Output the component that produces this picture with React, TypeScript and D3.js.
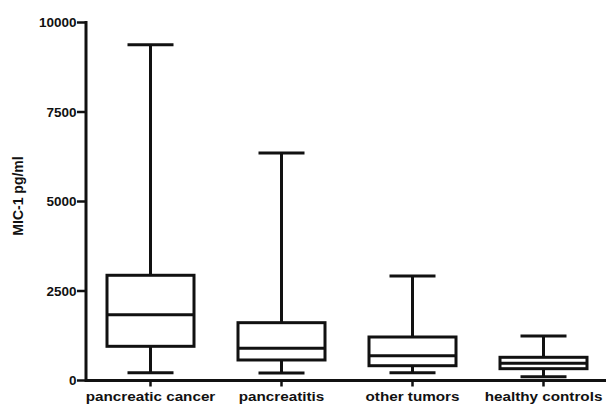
import React from "react";
import * as d3 from "d3";

const categories = ["pancreatic cancer", "pancreatitis", "other tumors", "healthy controls"];
const minValues = [218, 209, 218, 106];
const q1Values = [955, 573, 413, 330];
const medianValues = [1838, 899, 693, 480];
const q3Values = [2939, 1615, 1215, 648];
const maxValues = [9380, 6355, 2919, 1243];
const yTicks = [0, 2500, 5000, 7500, 10000];
const yLabel = "MIC-1 pg/ml";

const W = 606;
const H = 404;
const FONT = "'Liberation Sans', Arial, Helvetica, sans-serif";
const SX = 1.13;

export default function App() {
  const y = d3.scaleLinear().domain([0, 10000]).range([380.5, 22.5]);
  const x = d3.scaleBand<string>().domain(categories).range([85, 609]);
  const axisX = 86;
  const boxW = 87;
  const capW = 46;
  const sw = 3;
  const col = "#111";

  return (
    <svg
      width={W}
      height={H}
      style={{ position: "fixed", left: 0, top: 0, background: "#fff" }}
    >
      <rect x={0} y={0} width={W} height={H} fill="#fff" />
      {/* y axis */}
      <line x1={axisX} x2={axisX} y1={y(10000) - 1.5} y2={y(0) + 1.5} stroke={col} strokeWidth={sw} />
      {/* x axis */}
      <line x1={axisX} x2={606} y1={y(0)} y2={y(0)} stroke={col} strokeWidth={sw} />
      {yTicks.map((t) => (
        <g key={t}>
          <line x1={axisX - 9} x2={axisX} y1={y(t)} y2={y(t)} stroke={col} strokeWidth={2.5} />
          <text
            transform={`translate(${axisX - 9.5},${y(t) + 4.5}) scale(1.08,1)`}
            textAnchor="end"
            fontFamily={FONT}
            fontWeight="bold"
            fontSize={12.5}
            fill={col}
          >
            {t}
          </text>
        </g>
      ))}
      <text
        transform={`translate(23,${196}) rotate(-90)`}
        textAnchor="middle"
        fontFamily={FONT}
        fontWeight="bold"
        fontSize={14}
        fill={col}
      >
        {yLabel}
      </text>
      {categories.map((c, i) => {
        const cx = (x(c) as number) + x.bandwidth() / 2;
        return (
          <g key={c}>
            <line x1={cx} x2={cx} y1={y(0)} y2={y(0) + 6} stroke={col} strokeWidth={2.5} />
            <text
              transform={`translate(${cx},${400.5}) scale(${SX},1)`}
              textAnchor="middle"
              fontFamily={FONT}
              fontWeight="bold"
              fontSize={13.5}
              fill={col}
            >
              {c}
            </text>
            {/* whiskers */}
            <line x1={cx} x2={cx} y1={y(maxValues[i])} y2={y(q3Values[i])} stroke={col} strokeWidth={sw} />
            <line x1={cx} x2={cx} y1={y(q1Values[i])} y2={y(minValues[i])} stroke={col} strokeWidth={sw} />
            <line x1={cx - capW / 2} x2={cx + capW / 2} y1={y(maxValues[i])} y2={y(maxValues[i])} stroke={col} strokeWidth={sw} />
            <line x1={cx - capW / 2} x2={cx + capW / 2} y1={y(minValues[i])} y2={y(minValues[i])} stroke={col} strokeWidth={sw} />
            {/* box */}
            <rect
              x={cx - boxW / 2}
              y={y(q3Values[i])}
              width={boxW}
              height={y(q1Values[i]) - y(q3Values[i])}
              fill="#fff"
              stroke={col}
              strokeWidth={sw}
            />
            <line x1={cx - boxW / 2} x2={cx + boxW / 2} y1={y(medianValues[i])} y2={y(medianValues[i])} stroke={col} strokeWidth={sw} />
          </g>
        );
      })}
    </svg>
  );
}
